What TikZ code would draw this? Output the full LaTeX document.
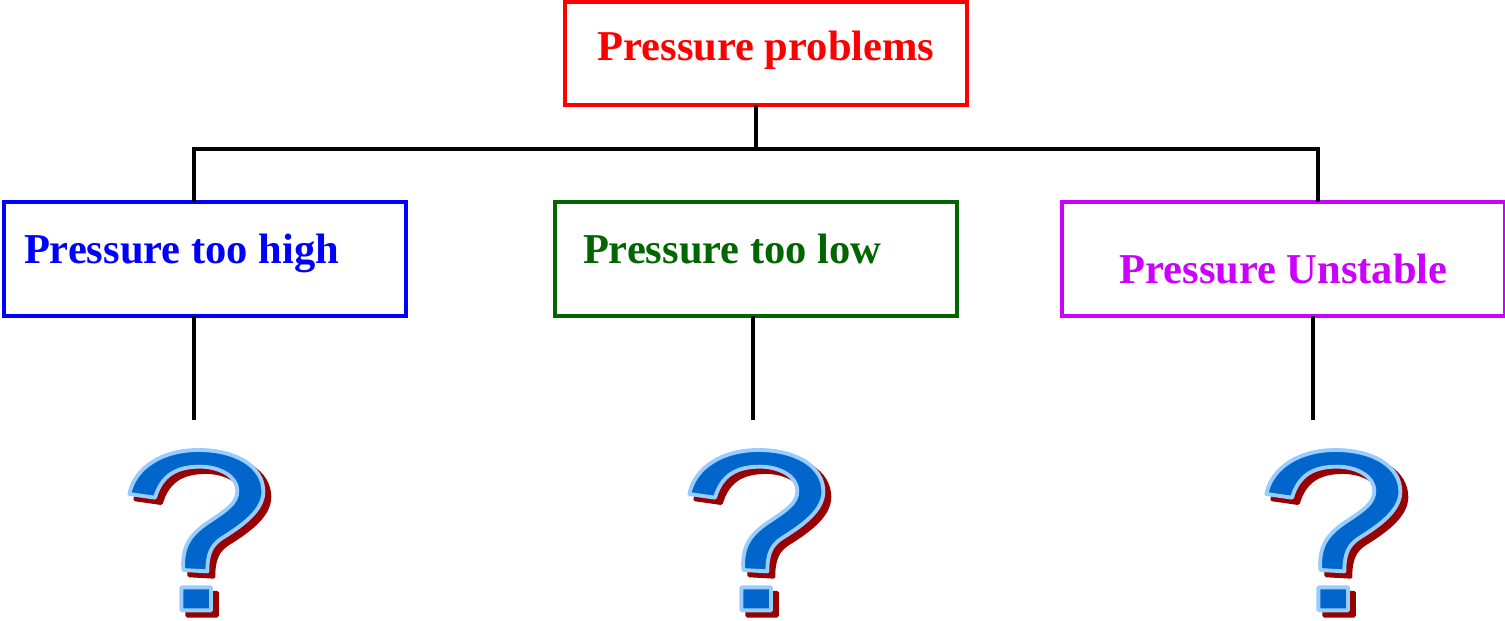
\documentclass[tikz,border=0pt]{standalone}
\usepackage{fontspec}
\setmainfont{Liberation Serif}
\usepackage{xcolor}
\definecolor{probred}{RGB}{255,0,0}
\definecolor{highblue}{RGB}{0,0,255}
\definecolor{lowgreen}{RGB}{0,102,0}
\definecolor{unstablepurple}{RGB}{204,0,255}
\definecolor{markblue}{RGB}{0,102,204}
\definecolor{marklight}{RGB}{153,204,255}
\definecolor{markshadow}{RGB}{153,0,0}
\newcommand{\markcurve}{(58,192) .. controls (75,110) and (160,60) .. (265,60)
  .. controls (380,60) and (460,110) .. (460,185)
  .. controls (460,240) and (400,285) .. (335,325)
  .. controls (305,345) and (292,370) .. (292,424)
  -- (220,420)
  .. controls (215,350) and (240,315) .. (290,280)
  .. controls (350,240) and (382,220) .. (382,182)
  .. controls (382,140) and (330,110) .. (270,110)
  .. controls (200,110) and (155,135) .. (135,203) -- cycle
  (214,472) rectangle (303,541)}

\begin{document}
\begin{tikzpicture}[
    box/.style={rectangle, draw=#1, text=#1, line width=1.8pt, inner ysep=0pt, outer sep=0pt, minimum height=2.28cm, font=\fontsize{24.2}{28}\selectfont\bfseries},
    tightwords/.style={execute at begin node={\spaceskip=.25em\relax}},
    link/.style={line width=2.2pt, color=black},
    qmark/.pic={
        \begin{scope}[x=0.00667cm, y=-0.00667cm, line width=2.2pt, line join=round]
        \draw[draw=markshadow, fill=markshadow, shift={(18,16)}] \markcurve;
        \draw[draw=marklight, fill=markblue] \markcurve;
        \end{scope}
    }
]
\useasboundingbox (0,0) rectangle (30.1,12.4);

% Top box
\node[box=probred, minimum width=8.04cm, minimum height=2.06cm, text height=0.7cm, text depth=0.44cm] (problems) at (15.32,11.33) {Pressure problems};

% Three cases
\node[box=highblue, tightwords, inner xsep=0.4cm, text width=7.24cm, text height=0.7cm, text depth=0.54cm] (high) at (4.10,7.22) {Pressure too high};
\node[box=lowgreen, tightwords, inner xsep=0.56cm, text width=6.92cm, text height=0.7cm, text depth=0.54cm] (low) at (15.12,7.22) {Pressure too low};
\node[box=unstablepurple, minimum width=8.86cm, text height=1.2cm, text depth=0.24cm] (unstable) at (25.67,7.22) {Pressure Unstable};

% Bus
\coordinate (busmid) at (15.12,9.42);
\coordinate (busleft) at (3.88,9.42);
\coordinate (busright) at (26.36,9.42);
\draw[link] (busmid |- problems.south) -- (busmid);
\draw[link] (busleft |- high.north) -- (busleft) -- (busright) -- (busright |- unstable.north);

% Stubs
\coordinate (endhigh) at (3.88,4);
\coordinate (endlow) at (15.06,4);
\coordinate (endunstable) at (26.26,4);
\draw[link] (endhigh |- high.south) -- (endhigh);
\draw[link] (endlow |- low.south) -- (endlow);
\draw[link] (endunstable |- unstable.south) -- (endunstable);

% Question marks
\pic at (2.2,3.8) {qmark};
\pic at (13.4,3.8) {qmark};
\pic at (24.94,3.8) {qmark};

\end{tikzpicture}
\end{document}
